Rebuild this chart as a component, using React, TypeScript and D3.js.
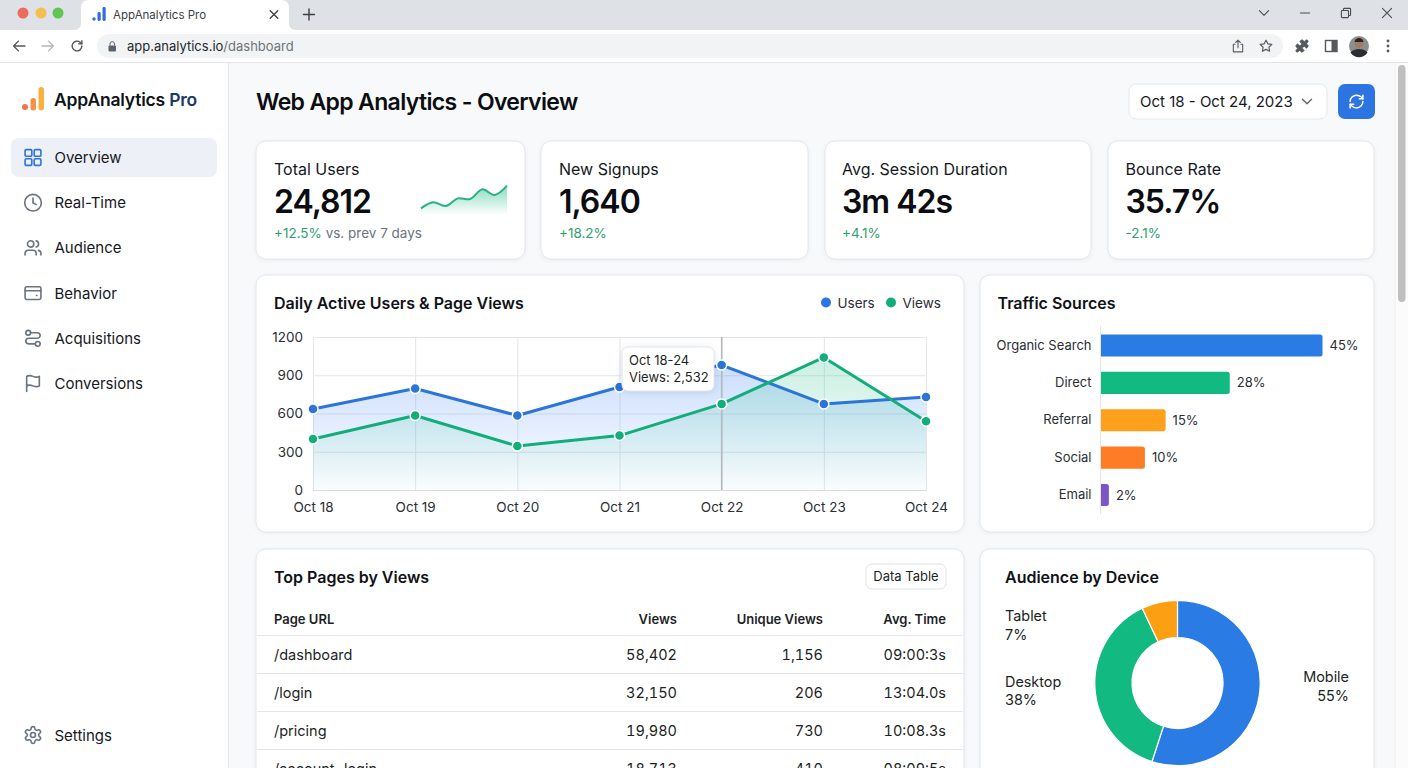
import React, { useEffect, useRef } from 'react';
import * as d3 from 'd3';

const days = ['Oct 18', 'Oct 19', 'Oct 20', 'Oct 21', 'Oct 22', 'Oct 23', 'Oct 24'];
const usersSeries = [635, 796, 584, 808, 980, 675, 730];
const viewsSeries = [400, 584, 345, 427, 675, 1040, 540];
const yTicks = [0, 300, 600, 900, 1200];

const sparkValues = [20, 38, 27, 50, 48, 77, 60, 88];

const sourceNames = ['Organic Search', 'Direct', 'Referral', 'Social', 'Email'];
// drawn bar lengths as they appear in the picture, the printed labels differ a little
const sourceLengths = [45, 26.2, 13.2, 9, 1.7];
const sourceLabels = ['45%', '28%', '15%', '10%', '2%'];
const sourceColors = ['#2b7be4', '#12b981', '#fda01c', '#fd7c25', '#7c55c9'];

const deviceNames = ['Mobile', 'Desktop', 'Tablet'];
const deviceShares = [55, 38, 7];
const deviceColors = ['#2b7be4', '#12b981', '#fd9f12'];

const pageUrls = ['/dashboard', '/login', '/pricing', '/account-login'];
const pageViews = ['58,402', '32,150', '19,980', '18,713'];
const pageUniques = ['1,156', '206', '730', '410'];
const pageTimes = ['09:00:3s', '13:04.0s', '10:08.3s', '08:09:5s'];

const navLabels = ['Overview', 'Real-Time', 'Audience', 'Behavior', 'Acquisitions', 'Conversions'];

const FONT = 'Inter, sans-serif';
const INK = '#15181d';
const BLUE = '#2b74e2';
const GREEN = '#12ad7a';

const Icon: React.FC<{ x: number; y: number; size?: number; color?: string; sw?: number; fill?: string; children: React.ReactNode }> = ({
  x, y, size = 20, color = '#6b7280', sw = 1.8, fill = 'none', children,
}) => {
  const s = size / 24;
  return (
    <g transform={`translate(${x - size / 2},${y - size / 2}) scale(${s})`} fill={fill} stroke={color} strokeWidth={sw / s} strokeLinecap="round" strokeLinejoin="round">
      {children}
    </g>
  );
};

const navIcons: React.ReactNode[] = [
  <>
    <rect x="2" y="2" width="8.5" height="8.5" rx="1.5" />
    <rect x="13.5" y="2" width="8.5" height="8.5" rx="1.5" />
    <rect x="2" y="13.5" width="8.5" height="8.5" rx="1.5" />
    <rect x="13.5" y="13.5" width="8.5" height="8.5" rx="1.5" />
  </>,
  <>
    <circle cx="12" cy="12" r="10.5" />
    <path d="M12 6v6l4 2.5" />
  </>,
  <>
    <path d="M16 21v-2a4 4 0 0 0-4-4H6a4 4 0 0 0-4 4v2" />
    <circle cx="9" cy="7" r="4" />
    <path d="M22 21v-2a4 4 0 0 0-3-3.87" />
    <path d="M16 3.13a4 4 0 0 1 0 7.75" />
  </>,
  <>
    <rect x="2" y="4" width="20" height="16" rx="2" />
    <path d="M2 9h20" />
    <path d="M16.5 15h.5" />
  </>,
  <>
    <circle cx="6" cy="5" r="3" />
    <path d="M9 5h8.5a3.5 3.5 0 0 1 0 7h-11a3.5 3.5 0 0 0 0 7H15" />
    <circle cx="18" cy="19" r="3" />
  </>,
  <>
    <path d="M4 15s1-1 4-1 5 2 8 2 4-1 4-1V3s-1 1-4 1-5-2-8-2-4 1-4 1z" />
    <path d="M4 22v-7" />
  </>,
];

const Card: React.FC<{ x: number; y: number; w: number; h: number }> = ({ x, y, w, h }) => (
  <rect x={x} y={y} width={w} height={h} rx={10} fill="#fff" stroke="#e3e6eb" strokeWidth={1} style={{ filter: 'drop-shadow(0 1px 2px rgba(20,30,50,0.06))' }} />
);

const Kpi: React.FC<{ x: number; label: string; value: string; delta: string; note?: string }> = ({ x, label, value, delta, note }) => (
  <g fontFamily={FONT}>
    <text x={x} y={175} fontSize={16} fill={INK}>{label}</text>
    <text x={x} y={213} fontSize={32} fontWeight={600} letterSpacing={-1} fill="#0b0d11">{value}</text>
    <text x={x} y={238} fontSize={13.5} fill="#2f9e6e">
      {delta}
      {note && <tspan fill="#6b7280">{note}</tspan>}
    </text>
  </g>
);

function App() {
  const lineRef = useRef<SVGGElement>(null);
  const sparkRef = useRef<SVGGElement>(null);
  const barRef = useRef<SVGGElement>(null);
  const donutRef = useRef<SVGGElement>(null);

  useEffect(() => {
    if (!lineRef.current) return;
    const g = d3.select(lineRef.current);
    g.selectAll('*').remove();

    const x = d3.scalePoint<string>().domain(days).range([313, 926]);
    const y = d3.scaleLinear().domain([0, 1200]).range([490, 337]);

    const defs = g.append('defs');
    const addGrad = (id: string, color: string, top: number) => {
      const grad = defs.append('linearGradient').attr('id', id)
        .attr('gradientUnits', 'userSpaceOnUse')
        .attr('x1', 0).attr('x2', 0).attr('y1', y(1040)).attr('y2', y(0));
      grad.append('stop').attr('offset', 0).attr('stop-color', color).attr('stop-opacity', top);
      grad.append('stop').attr('offset', 1).attr('stop-color', color).attr('stop-opacity', 0.01);
    };
    addGrad('usersFill', '#3b82f6', 0.28);
    addGrad('viewsFill', '#12b981', 0.22);

    // Draw grid through the axes
    g.append('g')
      .attr('transform', 'translate(313,0)')
      .call(d3.axisLeft(y).tickValues(yTicks).tickSize(-613).tickPadding(10).tickFormat(d3.format('d') as any))
      .call(a => a.select('.domain').remove())
      .call(a => a.selectAll('.tick line').attr('stroke', '#e3e6ea'))
      .call(a => a.selectAll('text').attr('font-size', 13.5).attr('font-family', FONT).attr('fill', '#2a2e35'));

    g.append('g')
      .attr('transform', 'translate(0,490)')
      .call(d3.axisBottom(x).tickSize(-153).tickPadding(12))
      .call(a => a.select('.domain').attr('stroke', '#d8dbe0'))
      .call(a => a.selectAll('.tick line').attr('stroke', '#e3e6ea'))
      .call(a => a.selectAll('text').attr('font-size', 13.5).attr('font-family', FONT).attr('fill', '#2a2e35'));

    const area = d3.area<number>().x((_, i) => x(days[i]) || 0).y0(y(0)).y1(d => y(d));
    const line = d3.line<number>().x((_, i) => x(days[i]) || 0).y(d => y(d));

    g.append('path').attr('d', area(usersSeries) || '').attr('fill', 'url(#usersFill)');
    g.append('path').attr('d', area(viewsSeries) || '').attr('fill', 'url(#viewsFill)');

    // crosshair on Oct 22
    g.append('line')
      .attr('x1', x('Oct 22') || 0).attr('x2', x('Oct 22') || 0)
      .attr('y1', y(1200)).attr('y2', y(0))
      .attr('stroke', '#b4b8be').attr('stroke-width', 1.5);

    const drawSeries = (values: number[], color: string) => {
      g.append('path').attr('d', line(values) || '').attr('fill', 'none')
        .attr('stroke', color).attr('stroke-width', 3).attr('stroke-linejoin', 'round');
      g.append('g').selectAll('circle').data(values).join('circle')
        .attr('cx', (_, i) => x(days[i]) || 0)
        .attr('cy', d => y(d))
        .attr('r', 5)
        .attr('fill', color)
        .attr('stroke', '#fff')
        .attr('stroke-width', 1.5);
    };
    drawSeries(usersSeries, '#2b74d8');
    drawSeries(viewsSeries, GREEN);
  }, []);

  useEffect(() => {
    if (!sparkRef.current) return;
    const g = d3.select(sparkRef.current);
    g.selectAll('*').remove();

    const x = d3.scaleLinear().domain([0, sparkValues.length - 1]).range([421, 507]);
    const y = d3.scaleLinear().domain([0, 100]).range([215, 181.7]);

    const grad = g.append('defs').append('linearGradient').attr('id', 'sparkFill')
      .attr('x1', 0).attr('x2', 0).attr('y1', 0).attr('y2', 1);
    grad.append('stop').attr('offset', 0).attr('stop-color', '#12b981').attr('stop-opacity', 0.5);
    grad.append('stop').attr('offset', 1).attr('stop-color', '#12b981').attr('stop-opacity', 0);

    const area = d3.area<number>().x((_, i) => x(i)).y0(y(0)).y1(d => y(d)).curve(d3.curveCatmullRom);
    const line = d3.line<number>().x((_, i) => x(i)).y(d => y(d)).curve(d3.curveCatmullRom);
    g.append('path').attr('d', area(sparkValues) || '').attr('fill', 'url(#sparkFill)');
    g.append('path').attr('d', line(sparkValues) || '').attr('fill', 'none').attr('stroke', '#2bb083').attr('stroke-width', 2);
  }, []);

  useEffect(() => {
    if (!barRef.current) return;
    const g = d3.select(barRef.current);
    g.selectAll('*').remove();

    const y = d3.scaleBand().domain(sourceNames).range([334.5, 506]).paddingInner(0.41).paddingOuter(0);
    const x = d3.scaleLinear().domain([0, 45]).range([1100.5, 1322.5]);

    g.append('g').selectAll('path').data(sourceLengths).join('path')
      .attr('d', (d, i) => {
        const top = y(sourceNames[i]) || 0;
        const r = 2.5;
        const right = x(d);
        return `M${x(0)},${top}H${right - r}Q${right},${top} ${right},${top + r}V${top + y.bandwidth() - r}Q${right},${top + y.bandwidth()} ${right - r},${top + y.bandwidth()}H${x(0)}Z`;
      })
      .attr('fill', (_, i) => sourceColors[i]);

    g.append('g').selectAll('text').data(sourceLengths).join('text')
      .attr('x', d => x(d) + 7)
      .attr('y', (_, i) => (y(sourceNames[i]) || 0) + y.bandwidth() / 2)
      .attr('dy', '0.35em')
      .attr('font-size', 13).attr('font-family', FONT).attr('fill', '#2a2e35')
      .text((_, i) => sourceLabels[i]);

    g.append('g')
      .attr('transform', `translate(${x(0)},0)`)
      .call(d3.axisLeft(y).tickSize(0).tickPadding(9))
      .call(a => a.select('.domain').remove())
      .call(a => a.selectAll('text').attr('font-size', 13).attr('font-family', FONT).attr('fill', '#2a2e35'));

    g.append('line')
      .attr('x1', x(0)).attr('x2', x(0))
      .attr('y1', y.range()[0] - 8.5).attr('y2', y.range()[1] + 8)
      .attr('stroke', '#e3e6ea');
  }, []);

  useEffect(() => {
    if (!donutRef.current) return;
    const g = d3.select(donutRef.current);
    g.selectAll('*').remove();

    const pie = d3.pie<number>().sort(null).value(d => d);
    const arc = d3.arc<d3.PieArcDatum<number>>().innerRadius(45.5).outerRadius(82.7);

    g.append('g').attr('transform', 'translate(1177.5,683)')
      .selectAll('path').data(pie(deviceShares)).join('path')
      .attr('d', arc)
      .attr('fill', (_, i) => deviceColors[i])
      .attr('stroke', '#fff')
      .attr('stroke-width', 1.2);
  }, []);

  return (
    <svg width={1408} height={768} viewBox="0 0 1408 768" style={{ position: 'fixed', left: 0, top: 0, display: 'block' }} fontFamily={FONT}>
      <rect width={1408} height={768} fill="#f8f9fb" />

      {/* browser chrome */}
      <rect width={1408} height={30} fill="#dee1e6" />
      <path d="M74,30 Q81,30 81,23 V8 Q81,0 89,0 H281 Q289,0 289,8 V23 Q289,30 296,30 Z" fill="#fff" />
      <circle cx={23} cy={13} r={5.5} fill="#ed6a5e" />
      <circle cx={41} cy={13} r={5.5} fill="#f4bf4f" />
      <circle cx={58} cy={13} r={5.5} fill="#61c554" />
      <circle cx={94} cy={19} r={1.7} fill="#2f6fd6" />
      <rect x={97.5} y={12} width={3.2} height={9} rx={1.4} fill="#2f6fd6" />
      <rect x={102.5} y={7} width={3.2} height={14} rx={1.4} fill="#2f6fd6" />
      <text x={113} y={18.5} fontSize={11.5} fill="#3c4043">AppAnalytics Pro</text>
      <Icon x={274} y={14.5} size={10} color="#3c4043" sw={1.4}><path d="M3 3l18 18M21 3L3 21" /></Icon>
      <Icon x={309} y={14.5} size={12} color="#3c4043" sw={1.4}><path d="M12 1v22M1 12h22" /></Icon>
      <Icon x={1264} y={13} size={11} color="#4a4d52" sw={1.1}><path d="M2 7l10 10L22 7" /></Icon>
      <Icon x={1305} y={13} size={10} color="#4a4d52" sw={1.1}><path d="M1 12h22" /></Icon>
      <Icon x={1346} y={13} size={10} color="#4a4d52" sw={1.1}>
        <rect x="1" y="6" width="17" height="17" rx="2" />
        <path d="M6 6V3a2 2 0 0 1 2-2h13a2 2 0 0 1 2 2v13a2 2 0 0 1-2 2h-3" />
      </Icon>
      <Icon x={1387} y={13} size={10} color="#4a4d52" sw={1.1}><path d="M1 1l22 22M23 1L1 23" /></Icon>

      <rect y={30} width={1408} height={33} fill="#fff" />
      <rect y={62} width={1408} height={1} fill="#e3e5e8" />
      <Icon x={19} y={46} size={13} color="#53575c" sw={1.4}><path d="M23 12H2M11 3l-9 9 9 9" /></Icon>
      <Icon x={48} y={46} size={13} color="#b4b7bc" sw={1.4}><path d="M1 12h21M13 3l9 9-9 9" /></Icon>
      <Icon x={77} y={46} size={13} color="#53575c" sw={1.4}>
        <path d="M21 12a9 9 0 1 1-3-6.7L21 8" />
        <path d="M21 2v6h-6" />
      </Icon>
      <rect x={97} y={34} width={1186} height={24} rx={12} fill="#f1f3f4" />
      <rect x={108.5} y={45.5} width={7.5} height={6} rx={1} fill="#5f6368" />
      <path d="M110 45.5v-1.6a2.2 2.2 0 0 1 4.5 0v1.6" fill="none" stroke="#5f6368" strokeWidth={1} />
      <text x={127} y={50.5} fontSize={13} fill="#25282c">
        app.analytics.io<tspan fill="#6f7378">/dashboard</tspan>
      </text>
      <Icon x={1238} y={46} size={14} color="#5a5e63" sw={1.1}>
        <path d="M7 9H4v13h16V9h-3M12 15V2M8 6l4-4 4 4" />
      </Icon>
      <Icon x={1266} y={46} size={14} color="#5a5e63" sw={1.2}>
        <path d="M12 2l3.09 6.26L22 9.27l-5 4.87 1.18 6.88L12 17.77l-6.18 3.25L7 14.14 2 9.27l6.91-1.01z" />
      </Icon>
      <Icon x={1302} y={46} size={15} color="#55595e" fill="#55595e" sw={0.5}>
        <path d="M19.439 7.85c-.049.322.059.648.289.878l1.568 1.568c.47.47.706 1.087.706 1.704s-.235 1.233-.706 1.704l-1.611 1.611a.98.98 0 0 1-.837.276c-.47-.07-.802-.48-.968-.925a2.501 2.501 0 1 0-3.214 3.214c.446.166.855.497.925.968a.979.979 0 0 1-.276.837l-1.61 1.61a2.404 2.404 0 0 1-1.705.707 2.402 2.402 0 0 1-1.704-.706l-1.568-1.568a1.026 1.026 0 0 0-.877-.29c-.493.074-.84.504-1.02.968a2.5 2.5 0 1 1-3.237-3.237c.464-.18.894-.527.967-1.02a1.026 1.026 0 0 0-.289-.877l-1.568-1.568A2.402 2.402 0 0 1 1.998 12c0-.617.236-1.234.706-1.704L4.23 8.77c.24-.24.581-.353.917-.303.515.077.877.528 1.073 1.01a2.5 2.5 0 1 0 3.259-3.259c-.482-.196-.933-.558-1.01-1.073-.05-.336.062-.676.303-.917l1.525-1.525A2.402 2.402 0 0 1 12 1.998c.617 0 1.234.236 1.704.706l1.568 1.568c.23.23.556.338.877.29.493-.074.84-.504 1.02-.968a2.5 2.5 0 1 1 3.237 3.237c-.464.18-.894.527-.967 1.02Z" />
      </Icon>
      <rect x={1325.5} y={40.5} width={11.5} height={11} fill="#fff" stroke="#55595e" strokeWidth={1.4} />
      <rect x={1331.5} y={40.5} width={5.5} height={11} fill="#55595e" />
      <circle cx={1359} cy={46} r={10} fill="#8d8f8f" />
      <circle cx={1359} cy={43.5} r={4.4} fill="#a5795f" />
      <path d="M1354.6,42 a4.4,4 0 0 1 8.8,0 Z" fill="#2b2522" />
      <path d="M1350.5,52.5 Q1353,49 1359,49 Q1365,49 1367.5,52.5 A10,10 0 0 1 1350.5,52.5 Z" fill="#2c2d30" />
      <circle cx={1388} cy={41} r={1.4} fill="#55595e" />
      <circle cx={1388} cy={46} r={1.4} fill="#55595e" />
      <circle cx={1388} cy={51} r={1.4} fill="#55595e" />

      {/* scrollbar */}
      <rect x={1394.5} y={63} width={13.5} height={705} fill="#fbfbfc" />
      <rect x={1394.5} y={63} width={1} height={705} fill="#eceef0" />
      <rect x={1398} y={65} width={7.5} height={237} rx={3.7} fill="#bfbfbf" />

      {/* sidebar */}
      <rect y={63} width={228.5} height={705} fill="#fff" />
      <rect x={228} y={63} width={1} height={705} fill="#e6e8ec" />
      <circle cx={25} cy={107} r={3} fill="#f0764a" />
      <rect x={30.5} y={98} width={5.5} height={12.5} rx={2.5} fill="#f4914a" />
      <rect x={38.5} y={87} width={5.5} height={23.5} rx={2.7} fill="#fbb03b" />
      <text x={54} y={106} fontSize={17.5} fontWeight={600} letterSpacing={-0.2} fill="#0f1216">
        AppAnalytics <tspan fill="#1d3a63">Pro</tspan>
      </text>
      <rect x={11} y={138} width={206} height={39} rx={8} fill="#edf1f7" />
      {navLabels.map((label, i) => {
        const cy = d3.scaleLinear().domain([0, 5]).range([157.5, 383.5])(i);
        return (
          <g key={label}>
            <Icon x={33} y={cy} size={19} color={i === 0 ? '#2f73d9' : '#6b7280'} sw={1.6}>{navIcons[i]}</Icon>
            <text x={54.5} y={cy + 5.5} fontSize={15} fill={INK}>{label}</text>
          </g>
        );
      })}
      <Icon x={33} y={735} size={20} color="#6b7280" sw={1.6}>
        <path d="M12.22 2h-.44a2 2 0 0 0-2 2v.18a2 2 0 0 1-1 1.73l-.43.25a2 2 0 0 1-2 0l-.15-.08a2 2 0 0 0-2.73.73l-.22.38a2 2 0 0 0 .73 2.73l.15.1a2 2 0 0 1 1 1.72v.51a2 2 0 0 1-1 1.74l-.15.09a2 2 0 0 0-.73 2.73l.22.38a2 2 0 0 0 2.73.73l.15-.08a2 2 0 0 1 2 0l.43.25a2 2 0 0 1 1 1.73V20a2 2 0 0 0 2 2h.44a2 2 0 0 0 2-2v-.18a2 2 0 0 1 1-1.73l.43-.25a2 2 0 0 1 2 0l.15.08a2 2 0 0 0 2.73-.73l.22-.39a2 2 0 0 0-.73-2.73l-.15-.08a2 2 0 0 1-1-1.74v-.5a2 2 0 0 1 1-1.74l.15-.09a2 2 0 0 0 .73-2.73l-.22-.38a2 2 0 0 0-2.73-.73l-.15.08a2 2 0 0 1-2 0l-.43-.25a2 2 0 0 1-1-1.73V4a2 2 0 0 0-2-2z" />
        <circle cx="12" cy="12" r="3" />
      </Icon>
      <text x={54.5} y={740.5} fontSize={15} fill={INK}>Settings</text>

      {/* header */}
      <text x={256} y={110} fontSize={23} fontWeight={600} letterSpacing={-0.65} fill="#0b0d11">Web App Analytics - Overview</text>
      <rect x={1129} y={84} width={198} height={35} rx={7} fill="#fff" stroke="#e3e6eb" />
      <text x={1140} y={107} fontSize={15} fill={INK}>Oct 18 - Oct 24, 2023</text>
      <Icon x={1307} y={101.5} size={11} color="#5f6368" sw={1.3}><path d="M2 7l10 10L22 7" /></Icon>
      <rect x={1338} y={84} width={37} height={35} rx={7} fill={BLUE} />
      <Icon x={1356.5} y={101.5} size={17} color="#fff" sw={1.5}>
        <path d="M3 12a9 9 0 0 1 9-9 9.75 9.75 0 0 1 6.74 2.74L21 8" />
        <path d="M21 3v5h-5" />
        <path d="M21 12a9 9 0 0 1-9 9 9.75 9.75 0 0 1-6.74-2.74L3 16" />
        <path d="M8 16H3v5" />
      </Icon>

      {/* KPI cards */}
      <Card x={256} y={141} w={269} h={118} />
      <Card x={541} y={141} w={267} h={118} />
      <Card x={825} y={141} w={266} h={118} />
      <Card x={1108} y={141} w={266} h={118} />
      <Kpi x={274} label="Total Users" value="24,812" delta="+12.5%" note=" vs. prev 7 days" />
      <Kpi x={559} label="New Signups" value="1,640" delta="+18.2%" />
      <Kpi x={842} label="Avg. Session Duration" value="3m 42s" delta="+4.1%" />
      <Kpi x={1125.5} label="Bounce Rate" value="35.7%" delta="-2.1%" />
      <g ref={sparkRef} />

      {/* line chart */}
      <Card x={256} y={275} w={708} h={257} />
      <text x={274} y={308.5} fontSize={16} fontWeight={600} fill="#0f1216">{'Daily Active Users & Page Views'}</text>
      <circle cx={826} cy={302.5} r={5} fill={BLUE} />
      <text x={837.5} y={307.5} fontSize={13.5} fill="#2a2e35">Users</text>
      <circle cx={891} cy={302.5} r={5} fill={GREEN} />
      <text x={902.5} y={307.5} fontSize={13.5} fill="#2a2e35">Views</text>
      <g ref={lineRef} />
      <rect x={622} y={347} width={92} height={44} rx={6} fill="#fff" stroke="#e3e6eb" style={{ filter: 'drop-shadow(0 1px 3px rgba(20,30,50,0.12))' }} />
      <text x={629} y={365} fontSize={13} fill="#1c1f24">Oct 18-24</text>
      <text x={629} y={382} fontSize={13} fill="#1c1f24">Views: 2,532</text>

      {/* traffic */}
      <Card x={980} y={275} w={394} h={257} />
      <text x={997.5} y={308.5} fontSize={16} fontWeight={600} fill="#0f1216">Traffic Sources</text>
      <g ref={barRef} />

      {/* table */}
      <Card x={256} y={549} w={708} h={240} />
      <text x={274} y={582.5} fontSize={16} fontWeight={600} fill="#0f1216">Top Pages by Views</text>
      <rect x={866} y={564} width={80} height={25} rx={6} fill="#fff" stroke="#dfe2e7" />
      <text x={906} y={581} fontSize={13} textAnchor="middle" fill="#1c1f24">Data Table</text>
      <g fontSize={13} fontWeight={600} fill="#1c1f24">
        <text x={274} y={624}>Page URL</text>
        <text x={677} y={624} textAnchor="end">Views</text>
        <text x={823} y={624} textAnchor="end">Unique Views</text>
        <text x={946} y={624} textAnchor="end">Avg. Time</text>
      </g>
      <line x1={257} x2={963} y1={635.5} y2={635.5} stroke="#e5e7eb" />
      {pageUrls.map((url, i) => {
        const rowY = d3.scaleLinear().domain([0, 3]).range([654.5, 768.5])(i);
        return (
          <g key={url} fontSize={14.5} fill="#1c1f24" style={{ fontVariantNumeric: 'tabular-nums' }}>
            <text x={274} y={rowY + 5.5}>{url}</text>
            <text x={677} y={rowY + 5.5} textAnchor="end">{pageViews[i]}</text>
            <text x={823} y={rowY + 5.5} textAnchor="end">{pageUniques[i]}</text>
            <text x={946} y={rowY + 5.5} textAnchor="end">{pageTimes[i]}</text>
            <line x1={257} x2={963} y1={rowY + 19} y2={rowY + 19} stroke="#e5e7eb" />
          </g>
        );
      })}

      {/* donut */}
      <Card x={980} y={549} w={394} h={240} />
      <text x={1005} y={582.5} fontSize={16} fontWeight={600} fill="#0f1216">Audience by Device</text>
      <g ref={donutRef} />
      <g fontSize={14.4} fill="#1c1f24">
        <text x={1005} y={621}>{deviceNames[2]}</text>
        <text x={1005} y={639.5}>{deviceShares[2]}%</text>
        <text x={1005} y={686.5}>{deviceNames[1]}</text>
        <text x={1005} y={705}>{deviceShares[1]}%</text>
        <text x={1349} y={682} textAnchor="end">{deviceNames[0]}</text>
        <text x={1349} y={700.5} textAnchor="end">{deviceShares[0]}%</text>
      </g>
    </svg>
  );
}

export default App;
